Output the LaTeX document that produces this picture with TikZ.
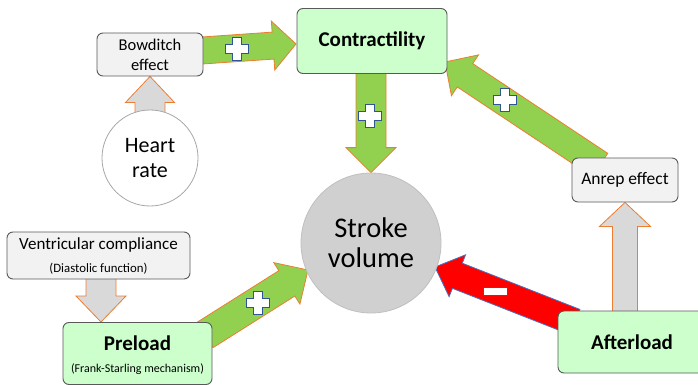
\documentclass[tikz,border=0pt]{standalone}
\usepackage{fontspec}
\setmainfont{Carlito}
\usetikzlibrary{calc}
\pgfdeclarelayer{background}
\pgfsetlayers{background,main}
\definecolor{agreen}{HTML}{92D050}
\definecolor{aorange}{HTML}{ED7D31}
\definecolor{agray}{HTML}{D9D9D9}
\definecolor{boxgreen}{HTML}{CCFFCC}
\definecolor{boxgray}{HTML}{F2F2F2}
\definecolor{boxline}{HTML}{595959}
\definecolor{svfill}{HTML}{D0D0D0}
\definecolor{svline}{HTML}{BFBFBF}
\definecolor{hrline}{HTML}{A6A6A6}
\definecolor{signblue}{HTML}{2F5597}
\definecolor{redline}{HTML}{4472C4}
% #1 style, #2 start, #3 tip, #4 half shaft, #5 half head, #6 head length
\newcommand\fatarrow[6]{%
  \coordinate (fa-h) at ($(#3)!#6!(#2)$);
  \draw[#1] ($(#2)!#4!90:(#3)$) -- ($(fa-h)!#4!90:(#3)$) -- ($(fa-h)!#5!90:(#3)$)
    -- (#3) -- ($(fa-h)!#5!-90:(#3)$) -- ($(fa-h)!#4!-90:(#3)$) -- ($(#2)!#4!-90:(#3)$) -- cycle;}
\begin{document}
\begin{tikzpicture}[x=1pt,y=-1pt,
  greenarrow/.style={fill=agreen,draw=aorange,line width=0.8pt,line join=miter},
  grayarrow/.style={fill=agray,draw=aorange,line width=0.8pt,line join=miter},
  redarrow/.style={fill=red,draw=redline,line width=0.8pt,line join=miter},
  graybox/.style={rectangle,rounded corners=6pt,fill=boxgray,draw=boxline,line width=0.9pt,inner sep=0pt},
  greenbox/.style={rectangle,rounded corners=6pt,fill=boxgreen,draw=boxline,line width=0.9pt,inner sep=0pt},
  signstyle/.style={fill=white,draw=signblue,line width=0.9pt},
  pluspic/.pic={\draw[signstyle] (-4.5,-11.5) -- (4.5,-11.5) -- (4.5,-4.5) -- (11.5,-4.5) -- (11.5,4.5) -- (4.5,4.5) -- (4.5,11.5) -- (-4.5,11.5) -- (-4.5,4.5) -- (-11.5,4.5) -- (-11.5,-4.5) -- (-4.5,-4.5) -- cycle;},
  minuspic/.pic={\draw[signstyle] (-12,-4) rectangle (12,4);}
]
\useasboundingbox (0,0) rectangle (698,385);

% nodes
\node[graybox,minimum width=106pt,minimum height=43pt,align=center,
  font=\fontsize{16.5}{20}\selectfont] (bow) at (150,54.5) {Bowditch\\effect};
\node[greenbox,minimum width=150pt,minimum height=65pt,
  font=\fontsize{21}{24}\selectfont\bfseries] (contr) at (372,41) {Contractility};
\node[circle,fill=white,draw=hrline,line width=0.8pt,minimum size=96pt,inner sep=0pt,align=center,
  font=\fontsize{22}{25}\selectfont] (hr) at (150,158) {Heart\\rate};
\node[circle,fill=svfill,draw=svline,line width=0.8pt,minimum size=140pt,inner sep=0pt,align=center,
  font=\fontsize{28.5}{30}\selectfont] (sv) at (371,243) {Stroke\\volume};
\node[graybox,minimum width=183pt,minimum height=47pt] (vent) at (98.5,255.5) {};
\node[font=\fontsize{17}{20}\selectfont] (venttxt) at (98.5,245) {Ventricular compliance};
\node[font=\fontsize{12.8}{15}\selectfont] (ventsub) at (98.5,268.5) {(Diastolic function)};
\node[greenbox,minimum width=149pt,minimum height=62pt] (pre) at (137.5,353.5) {};
\node[font=\fontsize{21}{24}\selectfont\bfseries] (pretxt) at (137.5,343) {Preload};
\node[font=\fontsize{12}{14}\selectfont] (presub) at (137.5,369) {(Frank-Starling mechanism)};
\node[graybox,minimum width=106pt,minimum height=44pt,
  font=\fontsize{17.5}{20}\selectfont] (anrep) at (625,180) {Anrep effect};
\node[greenbox,minimum width=147pt,minimum height=62pt] (aft) at (631.5,342) {};
\node[font=\fontsize{21}{24}\selectfont\bfseries] (afttxt) at (632,342) {Afterload};

% arrow end points
\coordinate (bowout) at (195,51);
\coordinate (contrin) at (296,44);
\coordinate (controut) at (371,40);
\coordinate (preout) at (205,335);
\coordinate (svinpre) at (308,270);
\coordinate (aftout) at (575,322);
\coordinate (svinaft) at (435,267);
\coordinate (anrepout) at (600,165);
\coordinate (contrinan) at (445,62);
\coordinate (aftup) at (625,330);
\coordinate (ventout) at (101,275);
\coordinate (prein) at (101,322);

\begin{pgfonlayer}{background}
  \fatarrow{greenarrow}{bowout}{contrin}{13.5pt}{24.5pt}{23pt}
  \fatarrow{greenarrow}{controut}{sv.north}{15pt}{25pt}{25pt}
  \fatarrow{greenarrow}{preout}{svinpre}{15pt}{24.5pt}{25pt}
  \fatarrow{redarrow}{aftout}{svinaft}{13.5pt}{22.5pt}{24pt}
  \fatarrow{greenarrow}{anrepout}{contrinan}{14pt}{24.5pt}{24pt}
  \fatarrow{grayarrow}{aftup}{anrep.south}{12.5pt}{25.5pt}{24pt}
  \fatarrow{grayarrow}{hr.center}{bow.south}{15pt}{24.5pt}{26pt}
  \fatarrow{grayarrow}{ventout}{prein}{15pt}{25pt}{26pt}
\end{pgfonlayer}

% signs
\pic at (237,49) {pluspic};
\pic at (370,116) {pluspic};
\pic at (258,303) {pluspic};
\pic at (505,100) {pluspic};
\pic at (495,291) {minuspic};
\end{tikzpicture}
\end{document}
